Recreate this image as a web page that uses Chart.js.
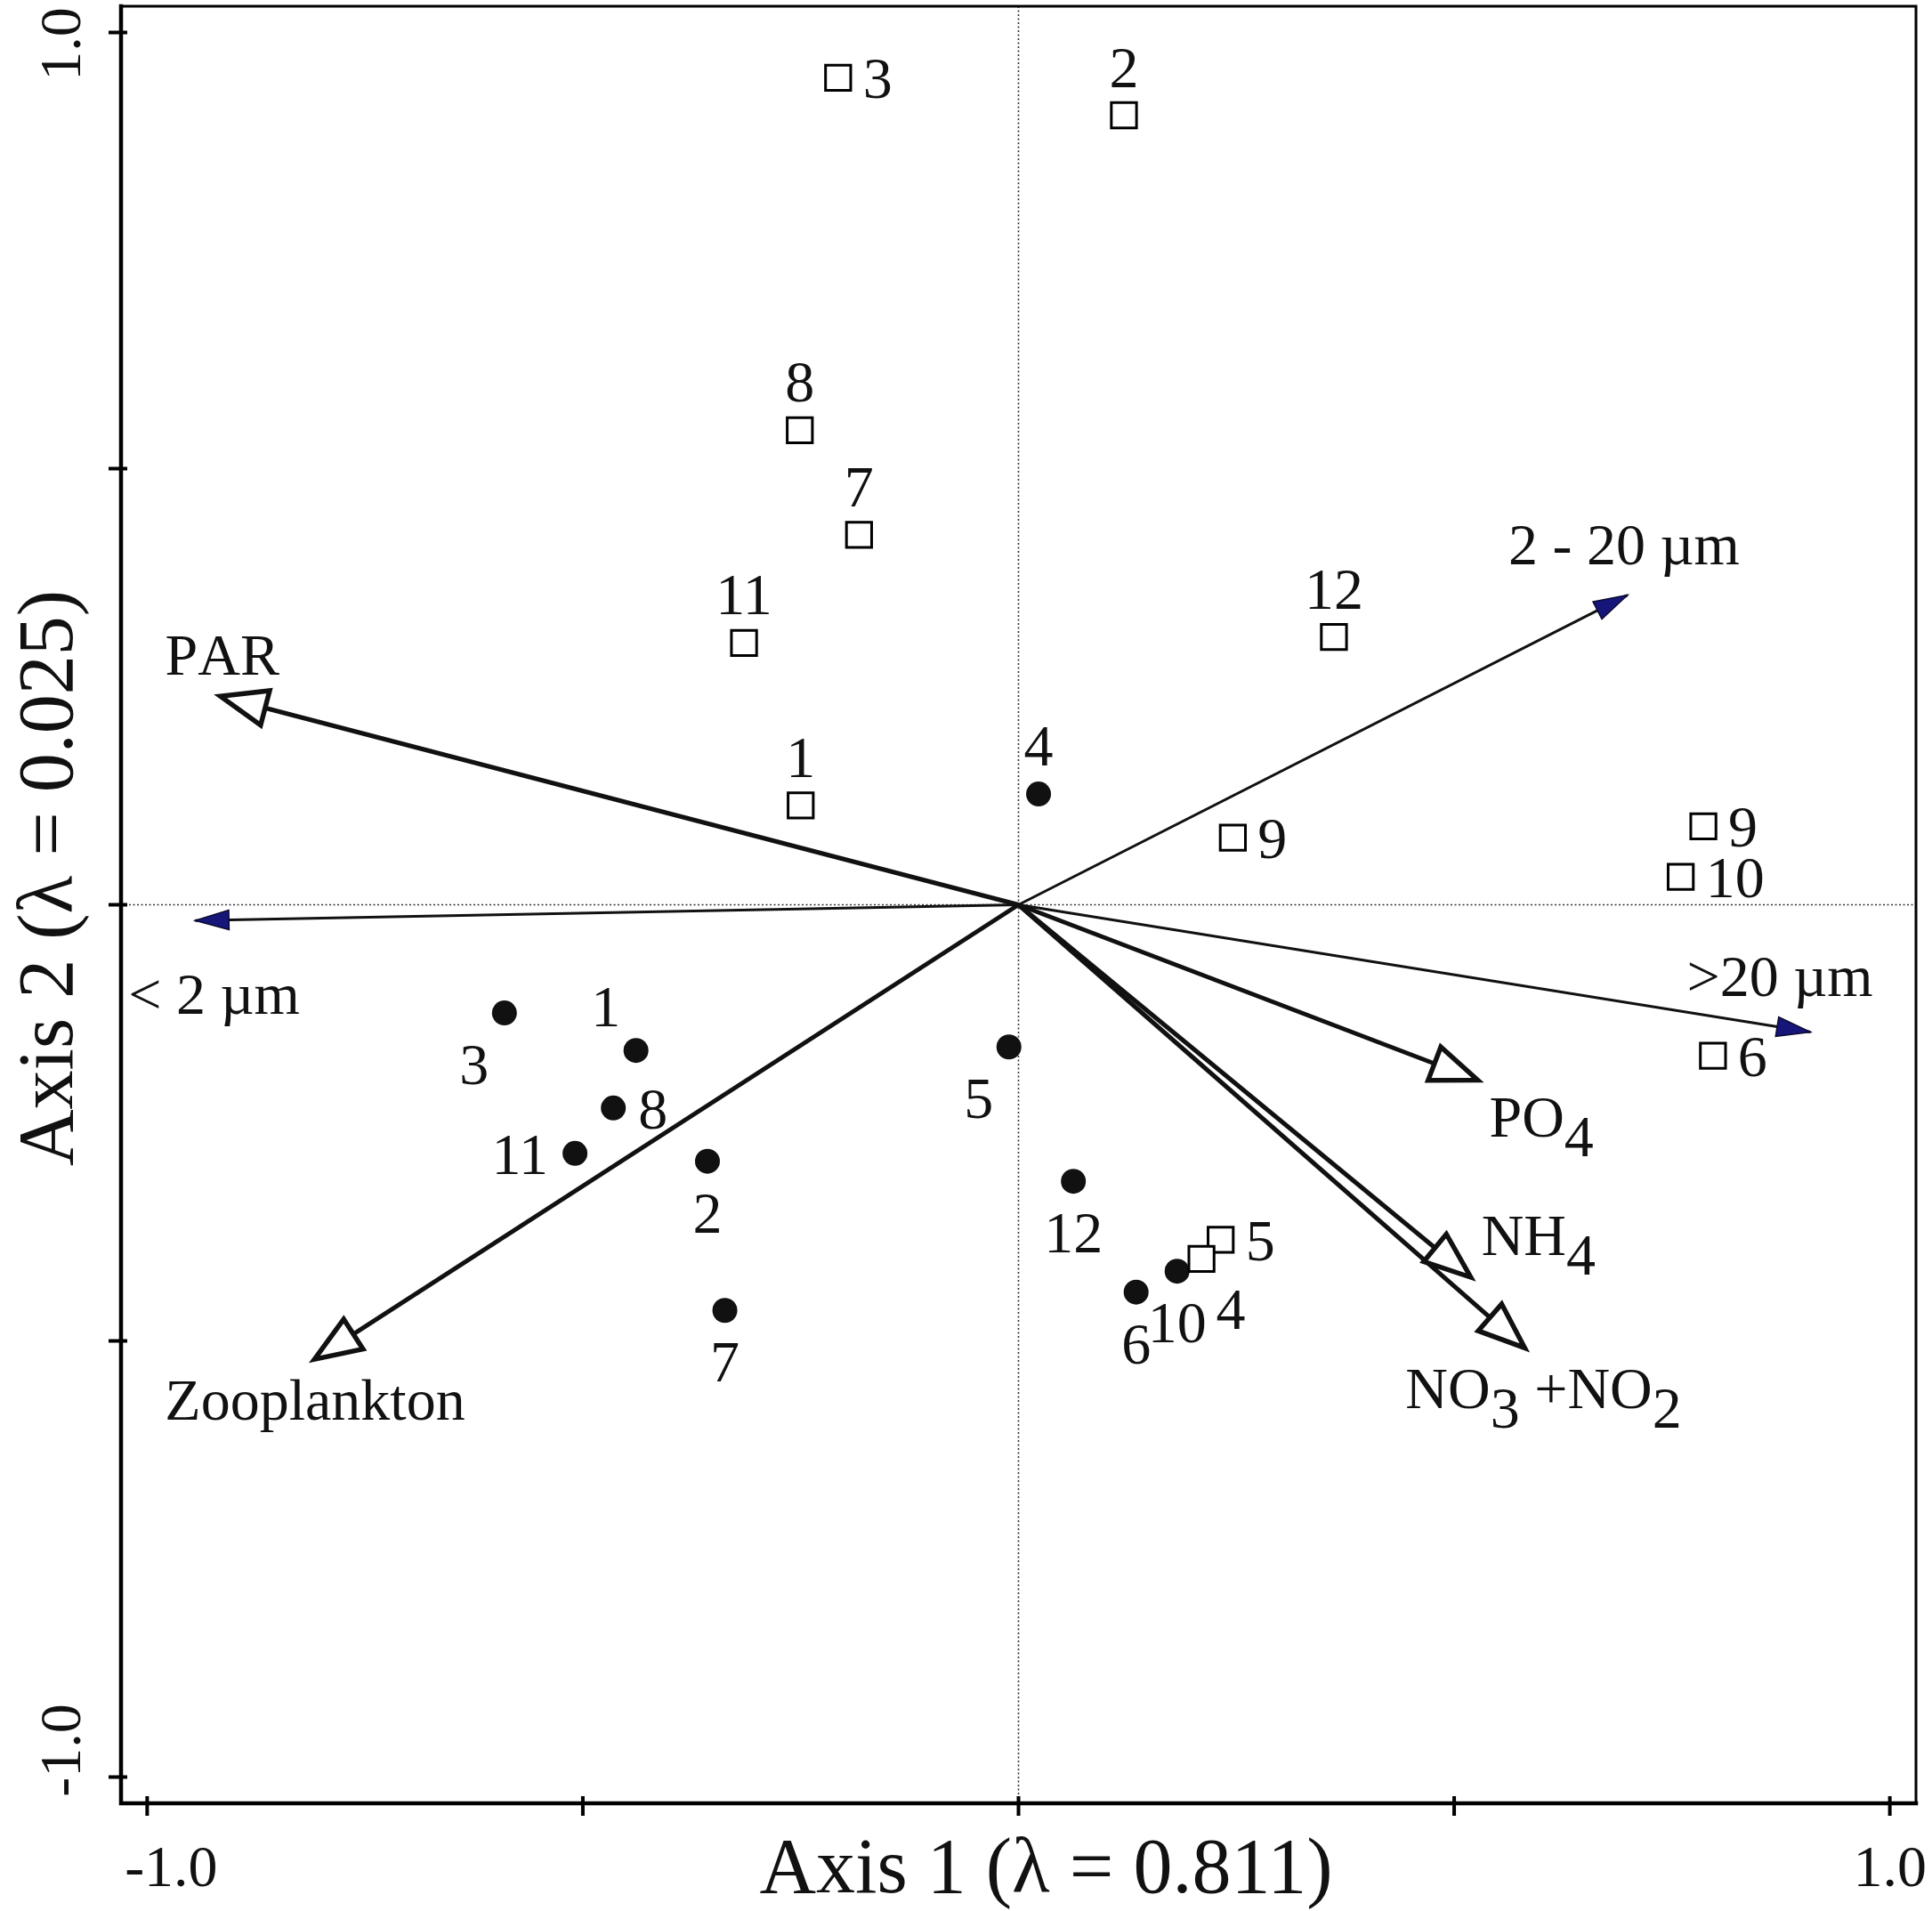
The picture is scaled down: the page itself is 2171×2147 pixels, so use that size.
<!DOCTYPE html>
<html>
<head>
<meta charset="utf-8">
<script src="https://cdn.jsdelivr.net/npm/chart.js@4.4.0/dist/chart.umd.min.js"></script>
<style>
html, body { margin: 0; padding: 0; background: #fff; }
#wrap { width: 2171px; height: 2147px; position: relative; }
</style>
</head>
<body>
<div id="wrap"><canvas id="mycanvas"></canvas></div>
<script>
// sites (open squares)
var sqX = [-0.207, 0.121, -0.251, -0.183, -0.315, -0.250, 0.362, 0.246, 0.786, 0.760, 0.797, 0.232, 0.210];
var sqY = [0.948, 0.905, 0.544, 0.424, 0.300, 0.114, 0.307, 0.077, 0.090, 0.032, -0.173, -0.384, -0.406];
var sqLab = ['3', '2', '8', '7', '11', '1', '12', '9', '9', '10', '6', '5', '4'];

// sites (filled circles)
var ciX = [0.023, -0.590, -0.439, -0.465, -0.509, -0.357, -0.337, -0.011, 0.063, 0.182, 0.135];
var ciY = [0.127, -0.124, -0.167, -0.233, -0.285, -0.294, -0.465, -0.163, -0.317, -0.420, -0.444];
var ciLab = ['4', '3', '1', '8', '11', '2', '7', '5', '12', '10', '6'];

// environmental variables (open heads)
var envNames = ['PAR', 'Zooplankton', 'PO_4', 'NH_4', 'NO_3 +NO_2'];
var envX = [-0.916, -0.808, 0.527, 0.519, 0.581];
var envY = [0.239, -0.521, -0.201, -0.427, -0.508];

// size classes (filled heads)
var spNames = ['< 2 \u00b5m', '2 - 20 \u00b5m', '>20 \u00b5m'];
var spX = [-0.945, 0.699, 0.909];
var spY = [-0.018, 0.355, -0.146];

// axes
var tickVals = [-1, -0.5, 0, 0.5, 1];
var tickLabels = ['-1.0', '', '', '', '1.0'];
var xTitle = 'Axis 1 (\u03bb = 0.811)';
var yTitle = 'Axis 2 (\u03bb = 0.025)';

// label placement (layout only)
var sqPos = ['right', 'above', 'above', 'above', 'above', 'above', 'above', 'right', 'right', 'right', 'right', 'right', 'belowRight'];
var ciPos = ['above', 'belowLeft', 'aboveLeft', 'right', 'left', 'below', 'below', 'belowLeft', 'below', 'below', 'below'];
var envOff = [[-62, -24], [-168, 68], [13, 64], [12, -25], [-134, 68]];
var spOff = [[-75, 105], [-134, -35], [-139, -41]];

var FONT = "'Liberation Serif', 'Times New Roman', serif";
var NAVY = '#16167a';

function pts(xs, ys) {
    var out = [];
    for (var i in xs) out.push({x: xs[i], y: ys[i]});
    return out;
}

var place = {
    above:      {dx: 0,   dy: -55, align: 'center'},
    below:      {dx: 0,   dy: 57,  align: 'center'},
    right:      {dx: 28,  dy: 0,   align: 'left'},
    left:       {dx: -30, dy: 0,   align: 'right'},
    belowLeft:  {dx: -34, dy: 57,  align: 'center'},
    aboveLeft:  {dx: -34, dy: -50, align: 'center'},
    belowRight: {dx: 33,  dy: 56,  align: 'center'}
};

// text with "_x" meaning subscript x
function drawRich(ctx, str, x, y) {
    ctx.textAlign = 'left';
    ctx.textBaseline = 'alphabetic';
    var cx = x;
    for (var i = 0; i < str.length; i++) {
        var ch = str[i];
        var dy = 0;
        if (ch === '_') { i++; ch = str[i]; dy = 22; }
        ctx.fillText(ch, cx, y + dy);
        cx += ctx.measureText(ch).width;
    }
}

function arrowHead(ctx, x0, y0, x1, y1, len, half, fill, stroke, lw) {
    var a = Math.atan2(y1 - y0, x1 - x0);
    var c = Math.cos(a), s = Math.sin(a);
    var bx = x1 - len * c, by = y1 - len * s;
    ctx.beginPath();
    ctx.moveTo(x1, y1);
    ctx.lineTo(bx - half * s, by + half * c);
    ctx.lineTo(bx + half * s, by - half * c);
    ctx.closePath();
    ctx.fillStyle = fill;
    ctx.fill();
    ctx.lineWidth = lw;
    ctx.strokeStyle = stroke;
    ctx.lineJoin = 'miter';
    ctx.stroke();
}

var decor = {
    id: 'decor',
    beforeDatasetsDraw: function(chart) {
        var ctx = chart.ctx, a = chart.chartArea;
        var xs = chart.scales.x, ys = chart.scales.y;
        var x0 = xs.getPixelForValue(0), y0 = ys.getPixelForValue(0);
        ctx.save();
        ctx.strokeStyle = '#333';
        ctx.lineWidth = 1.6;
        ctx.setLineDash([2, 2.5]);
        ctx.beginPath();
        ctx.moveTo(x0, a.top); ctx.lineTo(x0, a.bottom);
        ctx.moveTo(a.left, y0); ctx.lineTo(a.right, y0);
        ctx.stroke();
        ctx.restore();
    },
    afterDatasetsDraw: function(chart) {
        var ctx = chart.ctx;
        var xs = chart.scales.x, ys = chart.scales.y;
        var ox = xs.getPixelForValue(0), oy = ys.getPixelForValue(0);
        ctx.save();
        // heads
        for (var i in envX) {
            var tx = xs.getPixelForValue(envX[i]), ty = ys.getPixelForValue(envY[i]);
            arrowHead(ctx, ox, oy, tx, ty, 52, 20, '#fff', '#111', 5.5);
        }
        for (var j in spX) {
            var px = xs.getPixelForValue(spX[j]), py = ys.getPixelForValue(spY[j]);
            arrowHead(ctx, ox, oy, px, py, 38, 11, NAVY, '#0a0a30', 1.5);
        }
        // arrow labels
        ctx.fillStyle = '#111';
        ctx.font = '66px ' + FONT;
        for (var k in envNames) {
            var ex = xs.getPixelForValue(envX[k]), ey = ys.getPixelForValue(envY[k]);
            drawRich(ctx, envNames[k], ex + envOff[k][0], ey + envOff[k][1]);
        }
        for (var m in spNames) {
            var sx = xs.getPixelForValue(spX[m]), sy = ys.getPixelForValue(spY[m]);
            drawRich(ctx, spNames[m], sx + spOff[m][0], sy + spOff[m][1]);
        }
        // site labels
        ctx.font = '66px ' + FONT;
        ctx.textBaseline = 'alphabetic';
        var sets = [[0, sqLab, sqPos], [1, ciLab, ciPos]];
        sets.forEach(function(s) {
            var meta = chart.getDatasetMeta(s[0]);
            meta.data.forEach(function(el, n) {
                var p = place[s[2][n]];
                ctx.textAlign = p.align;
                ctx.fillText(s[1][n], el.x + p.dx, el.y + p.dy + 23);
            });
        });
        ctx.restore();
    },
    afterDraw: function(chart) {
        var ctx = chart.ctx, a = chart.chartArea;
        var xs = chart.scales.x, ys = chart.scales.y;
        ctx.save();
        ctx.strokeStyle = '#000';
        ctx.lineCap = 'square';
        // frame
        ctx.lineWidth = 3;
        ctx.beginPath();
        ctx.moveTo(a.left, a.top); ctx.lineTo(a.right, a.top); ctx.lineTo(a.right, a.bottom);
        ctx.stroke();
        ctx.lineWidth = 4.5;
        ctx.beginPath();
        ctx.moveTo(a.left, a.top); ctx.lineTo(a.left, a.bottom); ctx.lineTo(a.right, a.bottom);
        ctx.stroke();
        // ticks
        ctx.lineCap = 'butt';
        ctx.lineWidth = 4;
        ctx.beginPath();
        tickVals.forEach(function(v) {
            var px = xs.getPixelForValue(v), py = ys.getPixelForValue(v);
            ctx.moveTo(px, a.bottom - 8); ctx.lineTo(px, a.bottom + 14);
            ctx.moveTo(a.left + 7, py); ctx.lineTo(a.left - 14, py);
        });
        ctx.stroke();
        // tick labels
        ctx.fillStyle = '#111';
        ctx.font = '66px ' + FONT;
        ctx.textBaseline = 'alphabetic';
        ctx.textAlign = 'center';
        tickVals.forEach(function(v, i) {
            if (!tickLabels[i]) return;
            var shift = v < 0 ? 27 : 0;
            ctx.fillText(tickLabels[i], xs.getPixelForValue(v) + shift, a.bottom + 93);
            var ysh = v < 0 ? -30 : 13;
            ctx.save();
            ctx.translate(90, ys.getPixelForValue(v) + ysh);
            ctx.rotate(-Math.PI / 2);
            ctx.fillText(tickLabels[i], 0, 0);
            ctx.restore();
        });
        // axis titles
        ctx.font = '88px ' + FONT;
        ctx.fillText(xTitle, (a.left + a.right) / 2 + 31, a.bottom + 100);
        ctx.save();
        ctx.translate(81, (a.top + a.bottom) / 2 - 30);
        ctx.rotate(-Math.PI / 2);
        ctx.fillText(yTitle, 0, 0);
        ctx.restore();
        ctx.restore();
    }
};

var datasets = [
    {
        label: 'squares',
        data: pts(sqX, sqY),
        pointStyle: 'rect',
        pointRadius: 20,
        borderWidth: 3,
        borderColor: '#000',
        backgroundColor: '#fff',
        order: 0
    },
    {
        label: 'circles',
        data: pts(ciX, ciY),
        pointStyle: 'circle',
        pointRadius: 14,
        borderWidth: 0,
        backgroundColor: '#111',
        order: 0
    }
];
for (var i in envX) {
    datasets.push({
        label: envNames[i],
        data: [{x: 0, y: 0}, {x: envX[i], y: envY[i]}],
        showLine: true,
        pointRadius: 0,
        borderWidth: 5,
        borderColor: '#111',
        order: 1
    });
}
for (var j in spX) {
    datasets.push({
        label: spNames[j],
        data: [{x: 0, y: 0}, {x: spX[j], y: spY[j]}],
        showLine: true,
        pointRadius: 0,
        borderWidth: 3,
        borderColor: '#111',
        order: 1
    });
}

var ctx = document.getElementById('mycanvas');
var chart = new Chart(ctx, {
    type: 'scatter',
    data: {datasets: datasets},
    options: {
        responsive: true,
        maintainAspectRatio: false,
        animation: false,
        events: [],
        layout: {autoPadding: false, padding: {left: 136, right: 18, top: 7, bottom: 121}},
        plugins: {legend: {display: false}, tooltip: {enabled: false}},
        scales: {
            x: {type: 'linear', min: -1.03, max: 1.03, display: false},
            y: {type: 'linear', min: -1.03, max: 1.03, display: false}
        }
    },
    plugins: [decor]
});
</script>
</body>
</html>
